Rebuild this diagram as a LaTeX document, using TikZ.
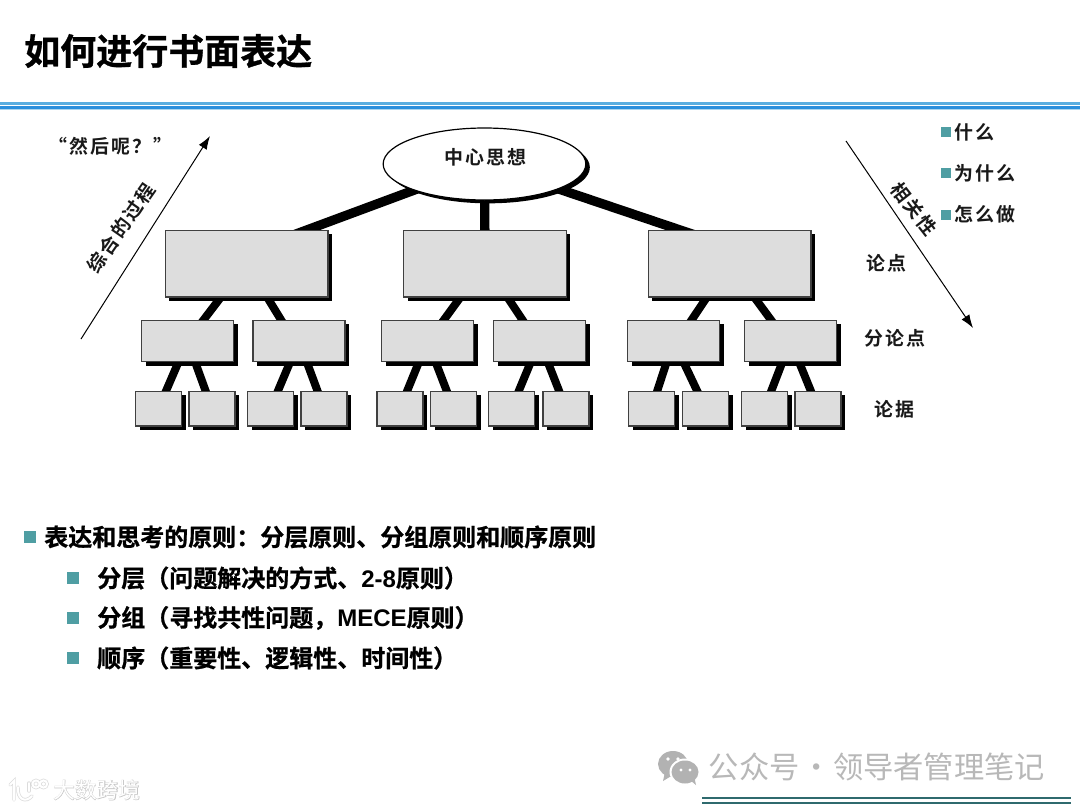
\documentclass[tikz,border=0pt]{standalone}
\usepackage{fontspec}
\setmainfont{Liberation Sans}
\newfontfamily\cjkb{Noto Sans CJK SC Bold}[FakeBold=0.8]
\newfontfamily\cjkhalo{Noto Sans CJK SC}[FakeBold=3]
\newfontfamily\cjkr{Noto Sans CJK SC}
\newfontfamily\cjksp{Noto Sans CJK SC Bold}[LetterSpace=11]
\newfontfamily\latb{Liberation Sans Bold}
\usetikzlibrary{shadows,arrows.meta,calc,shapes.geometric}
\definecolor{teal1}{HTML}{4F9EA3}
\definecolor{boxg}{HTML}{DDDDDD}
\definecolor{blueA}{HTML}{5AAEE0}
\definecolor{blueB}{HTML}{2A8FDC}
\definecolor{rule1}{HTML}{2F6A6E}
\pgfdeclarelayer{back}
\pgfsetlayers{back,main}
\tikzset{
 x=0.75pt,y=-0.75pt,
 boxbase/.style={draw=black!75,fill=boxg,line width=1pt,inner sep=0,outer sep=0,
   drop shadow={shadow xshift=3pt,shadow yshift=-3pt,fill=black,opacity=1}},
 topbox/.style={boxbase,minimum width=122pt,minimum height=50pt},
 midbox/.style={boxbase,minimum width=69pt,minimum height=31pt},
 leafbox/.style={boxbase,minimum width=34.5pt,minimum height=26pt},
 thick1/.style={line width=7pt,black},
 thin1/.style={line width=6pt,black},
 arrowln/.style={line width=0.75pt,-{Latex[length=10pt,width=7pt]}},
 lab/.style={font=\fontsize{14.2pt}{15pt}\cjksp,inner sep=0,text=black!90},
 bul/.style={fill=teal1,inner sep=0,minimum size=#1,outer sep=0},
 body/.style={font=\fontsize{18pt}{22pt}\cjkb,inner sep=0,anchor=west,text=black},
 wm/.style={text=black!28,inner sep=0},
 logohalo/.style={draw=black!30,line width=2.6pt,line cap=round,opacity=0.45},
 logoline/.style={draw=white,line width=1.5pt,line cap=round},
}
\begin{document}
\begin{tikzpicture}
\path[use as bounding box] (0,0) rectangle (1080,810);
\begin{pgfonlayer}{back}
\fill[white] (0,0) rectangle (1080,810);
\end{pgfonlayer}
% title and band
\node[font=\fontsize{27pt}{30pt}\cjkb,inner sep=0,anchor=west] (title) at (24,51) {如何进行书面表达};
\fill[blueA] (0,102) rectangle (1080,104.5);
\fill[blueB] (0,105.5) rectangle (1080,108.5);
\fill[blueA!50] (0,108.5) rectangle (1080,109.5);
% central
\node[ellipse,draw=black,fill=white,line width=0.9pt,minimum width=152pt,minimum height=54pt,inner sep=0,outer sep=0,
   drop shadow={shadow xshift=3pt,shadow yshift=-2.5pt,fill=black,opacity=1}] (ell) at (484.5,164) {};
\node[lab] (elltxt) at (485,157) {中心思想};
% boxes
\foreach \n/\c in {t1/246.5,t2/485,t3/729.5} \node[topbox] (\n) at (\c,263.5) {};
\foreach \n/\c in {m1/187.5,m2/299,m3/427.5,m4/539.5,m5/673.5,m6/790.5} \node[midbox] (\n) at (\c,341) {};
\foreach \n/\c in {s1/158.5,s2/212,s3/270.5,s4/324,s5/400,s6/453.5,s7/511.5,s8/566,s9/651.5,s10/705.5,s11/764.5,s12/818} \node[leafbox] (\n) at (\c,408.5) {};
% connectors
\begin{pgfonlayer}{back}
\draw[thick1] (ell.center) -- ($(t1.center)+(-30,0)$);
\draw[thick1] (ell.center) -- (t2.center);
\draw[thick1] (ell.center) -- ($(t3.center)+(50,0)$);
\foreach \a/\b/\o in {t1/m1/0,t1/m2/-5,t2/m3/1,t2/m4/-3,t3/m5/4,t3/m6/-4,m1/s1/0,m1/s2/0,m2/s3/0,m2/s4/0,m3/s5/0,m3/s6/0,m4/s7/0,m4/s8/0,m5/s9/0,m5/s10/0,m6/s11/0,m6/s12/0}
  \draw[thin1] (\a.center) -- ($(\b.center)+(\o,0)$);
\end{pgfonlayer}
% side arrows
\coordinate (aL1) at (81,339); \coordinate (aL2) at (210,136);
\coordinate (aR1) at (846,141); \coordinate (aR2) at (973,328);
\draw[arrowln] (aL1) -- (aL2);
\draw[arrowln] (aR1) -- (aR2);
\node[lab] (qt) at (110.5,146) {“然后呢？”};
\node[lab,rotate=55] (zh) at (121,228) {综合的过程};
\node[lab,rotate=-52] (xg) at (914,209) {相关性};
\node[lab] (ld) at (886,263) {论点};
\node[lab] (fld) at (895,338) {分论点};
\node[lab] (lj) at (894,409) {论据};
% right list
\foreach \y/\t/\m in {132/什么/a,173/为什么/b,214.5/怎么做/c}{
  \node[bul=7.5pt] (rb\m) at (946,\y) {};
  \node[lab,anchor=west] (rt\m) at (954,\y) {\t};
}
% body
\node[bul=9pt] (b0) at (30,537) {};
\node[body] (t0) at (44,537) {表达和思考的原则：分层原则、分组原则和顺序原则};
\node[bul=9pt] (b1) at (73,578) {};
\node[body] (t1x) at (97,578) {分层（问题解决的方式、{\latb 2-8}原则）};
\node[bul=9pt] (b2) at (73,618) {};
\node[body] (t2x) at (97,618) {分组（寻找共性问题，{\latb MECE}原则）};
\node[bul=9pt] (b3) at (73,658) {};
\node[body] (t3x) at (97,658) {顺序（重要性、逻辑性、时间性）};
% watermark right: WeChat glyph
\fill[black!30] (673,764) ellipse (15 and 13);
\fill[black!30] (665,772) -- (663,781) -- (673,775) -- cycle;
\fill[white] (685,772) ellipse (15.5 and 13.5);
\fill[black!30] (685,772) ellipse (13.5 and 11.5);
\fill[black!30] (690,780) -- (696,785) -- (694,776) -- cycle;
\fill[white] (668,759) circle (1.9) (678,759) circle (1.9) (681,770) circle (1.7) (690,770) circle (1.7);
\node[wm,font=\fontsize{22.7pt}{26pt}\cjkr,anchor=west] (wx) at (708.5,767) {公众号\hspace{1.2pt}·\hspace{1.2pt}领导者管理笔记};
\fill[rule1] (702,797) rectangle (1071,799);
\fill[rule1] (702,801.5) rectangle (1071,803.5);
% watermark left: logo
\foreach \st in {logohalo,logoline}{
  \draw[\st] (10,785) -- (14,781) -- (14,800);
  \draw[\st] (18,787) .. controls (17,800) and (26,803) .. (32,796);
  \draw[\st] (29,783) -- (29,791);
  \draw[\st] (36,784) circle (3.6);
  \draw[\st] (43.5,784) circle (3.6);
}
% watermark left: white text with a grey edge
\node[inner sep=0,font=\fontsize{16.3pt}{18pt}\cjkr,anchor=west] (wl) at (53,790) {\rlap{\cjkhalo\color{black!22}大数跨境}\color{white}大数跨境};
\end{tikzpicture}
\end{document}
